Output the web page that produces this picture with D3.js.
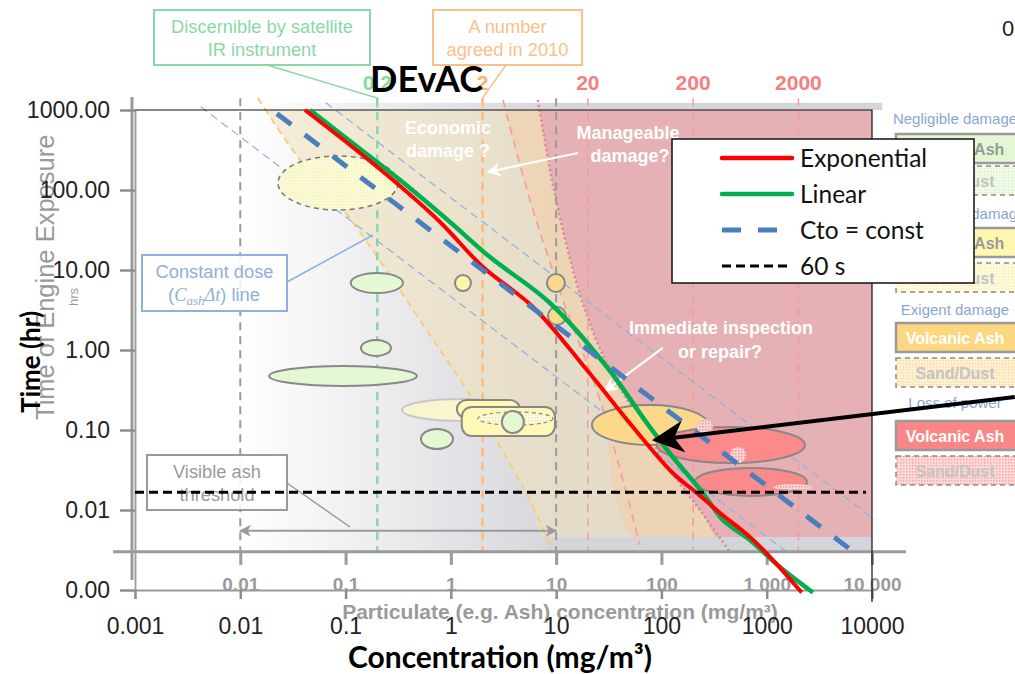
<!DOCTYPE html>
<html>
<head>
<meta charset="utf-8">
<script src="https://cdn.jsdelivr.net/npm/d3@7"></script>
<style>
  body { margin: 0; background: #fff; }
  svg { display: block; }
</style>
</head>
<body>
<script>
// ---- data -------------------------------------------------------------
const xTicks = [0.001, 0.01, 0.1, 1, 10, 100, 1000, 10000];
const yTicks = [1000, 100, 10, 1, 0.1, 0.01, 0.001];
const bgXTicks = [0.01, 0.1, 1, 10, 100, 1000, 10000];
const bgXLabels = ["0.01", "0.1", "1", "10", "100", "1 000", "10 000"];

// foreground series (concentration mg/m3, time hr)
const expConc = [0.0411, 0.110, 0.282, 0.789, 2.02, 6.03, 19.6, 53.6, 128, 217, 360, 692, 1145, 2150];
const expTime = [1000, 365, 133, 39.8, 10.9, 3.45, 0.562, 0.109, 0.029, 0.0163, 0.00918, 0.0046, 0.00237, 0.00093];
const linConc = [0.0459, 0.123, 0.329, 0.980, 2.35, 8.73, 30.4, 72.8, 128, 248, 384, 692, 1334, 2750];
const linTime = [1000, 365, 133, 39.8, 14.5, 3.87, 0.613, 0.122, 0.046, 0.0163, 0.0075, 0.00422, 0.00194, 0.00093];
const ctoConc = [0.0223, 8000];
const ctoTime = [900, 0.0025];
const sixtyConc = [0.001, 8750];
const sixtyTime = [0.0167, 0.0167];

// background diagram (DEvAC) shapes, same units
const doseLowConc = [0.0042, 1660], doseLowTime = [1100, 0.0028];
const doseHighConc = [0.065, 10700], doseHighTime = [1230, 0.0075];
const yellowConc = [0.0147, 0.0369, 0.0986, 0.237, 0.632, 1.52, 3.27, 5.64, 8.73];
const yellowTime = [1413, 237, 53.1, 10.6, 1.54, 0.274, 0.0487, 0.0133, 0.00365];
const slopeConc = [3.13, 5.64, 11.6, 26.1, 62.5];
const slopeTime = [1334, 75, 4.22, 0.237, 0.00365];
const dottedConc = [6.71, 9.12, 12.9, 18.8, 32.4, 62.5, 120, 232, 448];
const dottedTime = [1334, 133, 17.8, 3.16, 0.562, 0.133, 0.0316, 0.01, 0.00299];
const guideConc = [0.01, 0.2, 2, 10, 20, 200, 2000];
const guideLabels = ["", "0.2", "2", "", "20", "200", "2000"];
const guideColors = ["#9a9a9a", "#8ad8a6", "#fbbb7c", "#9a9a9a", "#f49c9c", "#f49c9c", "#f49c9c"];

// bubbles: [cMin, cMax, tMin, tMax, kind]
const bubbles = [
  [0.0228, 0.315, 56.2, 266, "paleDash"],
  [0.112, 0.351, 5.16, 9.17, "green"],
  [0.140, 0.270, 0.841, 1.33, "green"],
  [0.0188, 0.476, 0.355, 0.631, "green"],
  [1.094, 1.552, 5.46, 8.66, "yellow"],
  [8.18, 12.1, 5.31, 8.91, "orange"],
  [8.37, 12.4, 2.05, 3.45, "orange"],
  [0.344, 4.53, 0.130, 0.244, "paleYellow"],
  [1.14, 4.53, 0.141, 0.237, "yellowBox"],
  [1.27, 9.75, 0.0841, 0.194, "yellowBox"],
  [1.81, 9.33, 0.115, 0.168, "innerDash"],
  [3.05, 4.94, 0.0917, 0.173, "green"],
  [0.520, 1.047, 0.0579, 0.103, "green"],
  [21.9, 277, 0.065, 0.205, "orange"],
  [90.6, 2307, 0.0387, 0.109, "red"],
  [208, 2410, 0.015, 0.0335, "red"],
  [217, 308, 0.0866, 0.137, "pinkDot"],
  [448, 635, 0.0387, 0.0613, "pinkDot"],
  [1145, 2747, 0.0178, 0.0211, "pinkDot"]
];

const legendNames = ["Exponential", "Linear", "Cto = const", "60 s"];
const panelLabels = ["Negligible damage", "Manageable damage", "Exigent damage", "Loss of power"];
const panelAshFill = ["#e3f8d2", "#fdf7b0", "#fcd77f", "#fb8686"];
const panelDustBg = ["#f2fbec", "#fefbe2", "#fdf1d6", "#fcdada"];
const panelDustFg = ["#d9f2c6", "#f7efaa", "#f8dca0", "#f6a9a9"];

// ---- setup ------------------------------------------------------------
const W = 1015, H = 674;
const svg = d3.select("body").append("svg")
  .attr("width", W).attr("height", H)
  .style("font-family", "'Liberation Sans', Arial, sans-serif");

const x = d3.scaleLog().domain([0.001, 10000]).range([135, 872]);
const y = d3.scaleLog().domain([0.001, 1000]).range([590, 110]);

const line = d3.line().x(d => x(d[0])).y(d => y(d[1]));
const smooth = d3.line().x(d => x(d[0])).y(d => y(d[1])).curve(d3.curveCatmullRom.alpha(0.5));

const defs = svg.append("defs");
const grad = defs.append("linearGradient").attr("id", "greyGrad")
  .attr("gradientUnits", "userSpaceOnUse")
  .attr("x1", x(0.01)).attr("x2", x(12)).attr("y1", 0).attr("y2", 0);
grad.append("stop").attr("offset", 0).attr("stop-color", "#ffffff");
grad.append("stop").attr("offset", 1).attr("stop-color", "#d5d5db");

function dotPattern(id, bg, fg) {
  const p = defs.append("pattern").attr("id", id)
    .attr("width", 3).attr("height", 3).attr("patternUnits", "userSpaceOnUse");
  p.append("rect").attr("width", 3).attr("height", 3).attr("fill", bg);
  p.append("rect").attr("width", 1.5).attr("height", 1.5).attr("fill", fg);
}
dotPattern("paleDots", "#fbfbd8", "#f1f1b8");
dotPattern("innerDots", "#fdfbe0", "#ece8b0");
dotPattern("pinkDots", "#fbd6d6", "#f29a9a");
panelDustBg.forEach((c, i) => dotPattern("dust" + i, c, panelDustFg[i]));

function arrowMarker(id, color, size) {
  defs.append("marker").attr("id", id)
    .attr("viewBox", "0 0 10 10").attr("refX", 9).attr("refY", 5)
    .attr("markerWidth", size).attr("markerHeight", size)
    .attr("orient", "auto-start-reverse").attr("markerUnits", "userSpaceOnUse")
    .append("path").attr("d", "M0,0 L10,5 L0,10 L3,5 Z").attr("fill", color);
}
arrowMarker("whiteHead", "#ffffff", 14);
arrowMarker("greyHead", "#9a9a9a", 12);
arrowMarker("blackHead", "#000000", 32);

defs.append("clipPath").attr("id", "bgClip").append("rect")
  .attr("x", x(0.001)).attr("y", y(1000))
  .attr("width", x(10000) - x(0.001)).attr("height", y(0.0046) - y(1000));

// ---- background diagram ---------------------------------------------
const bg = svg.append("g");
bg.append("rect").attr("x", x(0.001)).attr("y", y(1000))
  .attr("width", x(10000) - x(0.001)).attr("height", y(0.003) - y(1000))
  .attr("fill", "url(#greyGrad)");
bg.append("rect").attr("x", x(0.01)).attr("y", y(1230))
  .attr("width", x(12500) - x(0.01)).attr("height", y(1000) - y(1230))
  .attr("fill", "url(#greyGrad)");

const regions = bg.append("g").attr("clip-path", "url(#bgClip)");
const yellowPts = d3.zip(yellowConc, yellowTime);
const slopePts = d3.zip(slopeConc, slopeTime);
const dottedPts = d3.zip(dottedConc, dottedTime);
regions.append("path")
  .attr("d", smooth(yellowPts.concat([[20000, 0.001], [20000, 2000], [0.0147, 2000]])))
  .attr("fill", "#f3e2ba").attr("opacity", 0.55);
regions.append("path")
  .attr("d", smooth(slopePts.concat([[20000, 0.001], [20000, 2000], [3.13, 2000]])))
  .attr("fill", "#f5c99c").attr("opacity", 0.45);
regions.append("path")
  .attr("d", smooth(dottedPts.concat([[20000, 0.001], [20000, 2000], [6.71, 2000]])))
  .attr("fill", "#e5b1b4");
bg.append("rect").attr("x", x(8)).attr("y", y(0.0046))
  .attr("width", x(10000) - x(8)).attr("height", y(0.003) - y(0.0046))
  .attr("fill", "#d4d5db");

bg.append("path").attr("d", smooth(yellowPts)).attr("fill", "none")
  .attr("stroke", "#f2cf7a").attr("stroke-width", 2).attr("stroke-dasharray", "7,5");
bg.append("path").attr("d", smooth(slopePts)).attr("fill", "none")
  .attr("stroke", "#f5a0a0").attr("stroke-width", 1.8).attr("stroke-dasharray", "8,6");
bg.append("path").attr("d", smooth(dottedPts)).attr("fill", "none")
  .attr("stroke", "#dc8592").attr("stroke-width", 2.5).attr("stroke-dasharray", "2,3");

// vertical guide lines
guideConc.forEach((c, i) => {
  bg.append("line").attr("x1", x(c)).attr("x2", x(c))
    .attr("y1", y(1400)).attr("y2", y(0.003))
    .attr("stroke", guideColors[i])
    .attr("stroke-width", c === 0.2 || c === 2 ? 2.5 : (c >= 20 ? 1.5 : 2))
    .attr("stroke-dasharray", "8,6");
  if (guideLabels[i]) {
    bg.append("text").attr("x", x(c)).attr("y", 90)
      .attr("text-anchor", "middle").attr("font-weight", "bold").attr("font-size", 21)
      .attr("fill", c === 0.2 ? "#8ad8a6" : (c === 2 ? "#fbb370" : "#f47f7f"))
      .text(guideLabels[i]);
  }
});

// constant dose lines
[[doseLowConc, doseLowTime], [doseHighConc, doseHighTime]].forEach(([cs, ts]) => {
  bg.append("path").attr("d", line(d3.zip(cs, ts))).attr("fill", "none")
    .attr("stroke", "#8fb0dc").attr("stroke-width", 1.2).attr("stroke-dasharray", "8,5");
});

// bubbles
const bubbleStyle = {
  paleDash: { fill: "url(#paleDots)", stroke: "#777", dash: "5,4", w: 1.5 },
  green: { fill: "#e4f9d3", stroke: "#888", dash: null, w: 2 },
  yellow: { fill: "#fdf6a8", stroke: "#888", dash: null, w: 2 },
  orange: { fill: "#fcd98a", stroke: "#888", dash: null, w: 2 },
  paleYellow: { fill: "#f8f5cf", stroke: "#c8c8c8", dash: null, w: 2 },
  yellowBox: { fill: "#fdf8b6", stroke: "#888", dash: null, w: 2 },
  innerDash: { fill: "url(#innerDots)", stroke: "#888", dash: "4,3", w: 1.2 },
  red: { fill: "#fb8a8a", stroke: "#888", dash: null, w: 2 },
  pinkDot: { fill: "url(#pinkDots)", stroke: "none", dash: null, w: 0 }
};
bubbles.forEach(([c0, c1, t0, t1, kind]) => {
  const s = bubbleStyle[kind];
  const x0 = x(c0), x1 = x(c1), y0 = y(t1), y1 = y(t0);
  let el;
  if (kind === "yellowBox") {
    el = bg.append("rect").attr("x", x0).attr("y", y0)
      .attr("width", x1 - x0).attr("height", y1 - y0).attr("rx", 10);
  } else {
    el = bg.append("ellipse").attr("cx", (x0 + x1) / 2).attr("cy", (y0 + y1) / 2)
      .attr("rx", (x1 - x0) / 2).attr("ry", (y1 - y0) / 2);
  }
  el.attr("fill", s.fill).attr("stroke", s.stroke).attr("stroke-width", s.w);
  if (s.dash) el.attr("stroke-dasharray", s.dash);
});

// callouts
function callout(x0, y0, w, h, color, lines, leader) {
  bg.append("path").attr("d", d3.line()(leader)).attr("fill", "none")
    .attr("stroke", color).attr("stroke-width", 1.5);
  bg.append("rect").attr("x", x0).attr("y", y0).attr("width", w).attr("height", h)
    .attr("fill", "#fff").attr("fill-opacity", 0.85)
    .attr("stroke", color).attr("stroke-width", 2);
  lines.forEach((t, i) => {
    bg.append("text").attr("x", x0 + w / 2).attr("y", y0 + 23 + i * 23)
      .attr("text-anchor", "middle").attr("font-size", 18.3).attr("fill", color).text(t);
  });
}
callout(154, 10, 216, 55, "#8ad8a6", ["Discernible by satellite", "IR instrument"],
  [[267, 65], [x(0.2), 98], [x(0.2), 108]]);
callout(433, 10, 149, 55, "#fbc089", ["A number", "agreed in 2010"],
  [[506, 65], [x(2), 98], [x(2), 108]]);
callout(142, 255, 145, 56, "#8fb0dc", ["Constant dose"], [[287, 282], [373, 235]]);
const cd = bg.append("text").attr("x", 214).attr("y", 301).attr("text-anchor", "middle")
  .attr("font-size", 18.3).attr("fill", "#8fb0dc");
cd.append("tspan").text("(");
cd.append("tspan").attr("font-family", "'Liberation Serif', serif").attr("font-style", "italic").text("C");
cd.append("tspan").attr("font-family", "'Liberation Serif', serif").attr("font-style", "italic")
  .attr("font-size", 13).attr("dy", 4).text("ash");
cd.append("tspan").attr("font-family", "'Liberation Serif', serif").attr("font-style", "italic")
  .attr("dy", -4).text("Δt");
cd.append("tspan").text(") line");
callout(147, 455, 140, 55, "#9a9a9a", ["Visible ash", "threshold"], [[287, 483], [350, 527]]);

// double arrow from 0.01 to 10
bg.append("line").attr("x1", x(0.01)).attr("x2", x(10))
  .attr("y1", y(0.0055)).attr("y2", y(0.0055))
  .attr("stroke", "#9a9a9a").attr("stroke-width", 2)
  .attr("marker-start", "url(#greyHead)").attr("marker-end", "url(#greyHead)");

// white annotations
const whiteText = [
  ["Economic", 448, 134], ["damage ?", 448, 157],
  ["Manageable", 628, 139], ["damage?", 630, 162],
  ["Immediate inspection", 721, 334], ["or repair?", 720, 358]
];
whiteText.forEach(([t, tx, ty]) => {
  bg.append("text").attr("x", tx).attr("y", ty).attr("text-anchor", "middle")
    .attr("font-weight", "bold").attr("font-size", 18).attr("fill", "#fff").text(t);
});
[[[16.1, 290], [2.25, 168]], [[103, 1.06], [29.0, 0.307]]].forEach(seg => {
  bg.append("path").attr("d", line(seg)).attr("stroke", "#fff").attr("stroke-width", 2.2)
    .attr("fill", "none").attr("marker-end", "url(#whiteHead)");
});

// background axes
const bgAxis = svg.append("g").attr("transform", `translate(0,${y(0.003)})`)
  .call(d3.axisBottom(x).tickValues(bgXTicks).tickFormat((d, i) => bgXLabels[i])
    .tickSize(13).tickPadding(13).tickSizeOuter(0));
bgAxis.select(".domain").remove();
bgAxis.selectAll(".tick line").attr("stroke", "#9a9a9a").attr("stroke-width", 3);
bgAxis.selectAll(".tick text").attr("fill", "#9a9a9a").attr("font-size", 19)
  .attr("font-weight", "bold").attr("font-family", "'Liberation Sans', Arial, sans-serif");
svg.append("line").attr("x1", 113).attr("x2", 906)
  .attr("y1", y(0.003)).attr("y2", y(0.003)).attr("stroke", "#9a9a9a").attr("stroke-width", 3);
svg.append("line").attr("x1", 132).attr("x2", 132).attr("y1", 97).attr("y2", 580)
  .attr("stroke", "#9a9a9a").attr("stroke-width", 3);
svg.append("text").attr("x", 560).attr("y", 619).attr("text-anchor", "middle")
  .attr("font-size", 21).attr("font-weight", "bold").attr("fill", "#9a9a9a")
  .text("Particulate (e.g. Ash) concentration (mg/m³)");
svg.append("text").attr("transform", "translate(54,420) rotate(-90)")
  .attr("font-size", 25.5).attr("fill", "#9a9a9a").text("Time of Engine Exposure");
svg.append("text").attr("transform", "translate(78,306) rotate(-90)")
  .attr("font-size", 13).attr("fill", "#9a9a9a").text("hrs");

// ---- right panel ----------------------------------------------------
const panel = svg.append("g");
const panelRows = [[124, 134, 166], [219, 228, 263], [315, 323, 358], [408, 421, 456]];
panelRows.forEach(([ly, ay, dy], i) => {
  panel.append("text").attr("x", 955).attr("y", ly).attr("text-anchor", "middle")
    .attr("font-size", 15).attr("fill", "#8aa6d0").text(panelLabels[i]);
  panel.append("rect").attr("x", 896).attr("y", ay).attr("width", 130).attr("height", 29)
    .attr("fill", panelAshFill[i]).attr("stroke", "#9a9a9a").attr("stroke-width", 2.5);
  panel.append("text").attr("x", 955).attr("y", ay + 21).attr("text-anchor", "middle")
    .attr("font-size", 16).attr("font-weight", "bold")
    .attr("fill", i < 2 ? "#9a9a9a" : "#fff").text("Volcanic Ash");
  panel.append("rect").attr("x", 896).attr("y", dy).attr("width", 130).attr("height", 29)
    .attr("fill", "url(#dust" + i + ")").attr("stroke", "#8a8a8a").attr("stroke-width", 1.5)
    .attr("stroke-dasharray", "5,4");
  panel.append("text").attr("x", 955).attr("y", dy + 21).attr("text-anchor", "middle")
    .attr("font-size", 16).attr("font-weight", "bold").attr("fill", "#c4c4c4").text("Sand/Dust");
});
svg.append("text").attr("x", 1002).attr("y", 36).attr("font-size", 22).attr("fill", "#222").text("0");

// ---- foreground chart -----------------------------------------------
const xAxis = svg.append("g").attr("transform", `translate(0,${y(0.001)})`)
  .call(d3.axisBottom(x).tickValues(xTicks).tickFormat(d3.format("~g"))
    .tickSize(9).tickPadding(19).tickSizeOuter(0));
const yAxis = svg.append("g").attr("transform", `translate(${x(0.001)},0)`)
  .call(d3.axisLeft(y).tickValues(yTicks).tickFormat(d3.format(".2f"))
    .tickSize(15).tickPadding(10).tickSizeOuter(0));
[xAxis, yAxis].forEach(a => {
  a.select(".domain").attr("stroke", "#9a9a9a").attr("stroke-width", 1.8);
  a.selectAll(".tick line").attr("stroke", "#8c8c8c").attr("stroke-width", 2.5);
  a.selectAll(".tick text").attr("fill", "#222").attr("font-size", 23)
    .attr("font-family", "'Liberation Sans', Arial, sans-serif");
});
svg.append("path")
  .attr("d", `M${x(0.001)},${y(1000)}H${x(10000)}V${y(0.001) + 12}`)
  .attr("fill", "none").attr("stroke", "#111").attr("stroke-width", 1.2);

const fg = svg.append("g").attr("fill", "none");
fg.append("path").attr("d", smooth(d3.zip(linConc, linTime)))
  .attr("stroke", "#00b04f").attr("stroke-width", 4.5);
fg.append("path").attr("d", smooth(d3.zip(expConc, expTime)))
  .attr("stroke", "#ff0000").attr("stroke-width", 4);
fg.append("path").attr("d", line(d3.zip(ctoConc, ctoTime)))
  .attr("stroke", "#4a7ebf").attr("stroke-width", 5).attr("stroke-dasharray", "18,17");
fg.append("path").attr("d", line(d3.zip(sixtyConc, sixtyTime)))
  .attr("stroke", "#000").attr("stroke-width", 3).attr("stroke-dasharray", "9,5");

// legend
const lg = svg.append("g");
lg.append("rect").attr("x", 672).attr("y", 139).attr("width", 302).attr("height", 144)
  .attr("fill", "#fff").attr("stroke", "#111").attr("stroke-width", 1.5);
const legStroke = ["#ff0000", "#00b04f", "#4a7ebf", "#000"];
const legWidth = [4.5, 4.5, 5, 3];
const legDash = [null, null, "19,17", "9,5"];
legendNames.forEach((n, i) => {
  const ly = 158 + i * 36;
  const l = lg.append("line").attr("x1", 722).attr("x2", 792).attr("y1", ly).attr("y2", ly)
    .attr("stroke", legStroke[i]).attr("stroke-width", legWidth[i]);
  if (legDash[i]) l.attr("stroke-dasharray", legDash[i]);
  else l.attr("stroke-linecap", "round");
  lg.append("text").attr("x", 800).attr("y", ly).attr("dy", "0.35em")
    .attr("font-family", "Lato, 'Open Sans', sans-serif").attr("font-size", 24.5)
    .attr("fill", "#111").text(n);
});

// black pointer arrow
svg.append("path").attr("d", line([[227000, 0.258], [87, 0.075]]))
  .attr("stroke", "#000").attr("stroke-width", 4).attr("fill", "none")
  .attr("marker-end", "url(#blackHead)");

// titles
svg.append("text").attr("x", 370).attr("y", 92).attr("font-family", "Lato, sans-serif")
  .attr("font-weight", "bold").attr("font-size", 36).attr("fill", "#000").text("DEvAC");
svg.append("text").attr("x", 500).attr("y", 668).attr("text-anchor", "middle")
  .attr("font-family", "Lato, sans-serif").attr("font-weight", "bold").attr("font-size", 30)
  .attr("fill", "#000").text("Concentration (mg/m³)");
svg.append("text").attr("transform", "translate(40,362) rotate(-90)").attr("text-anchor", "middle")
  .attr("font-family", "Lato, sans-serif").attr("font-weight", "bold").attr("font-size", 26)
  .attr("fill", "#000").text("Time (hr)");
</script>
</body>
</html>
